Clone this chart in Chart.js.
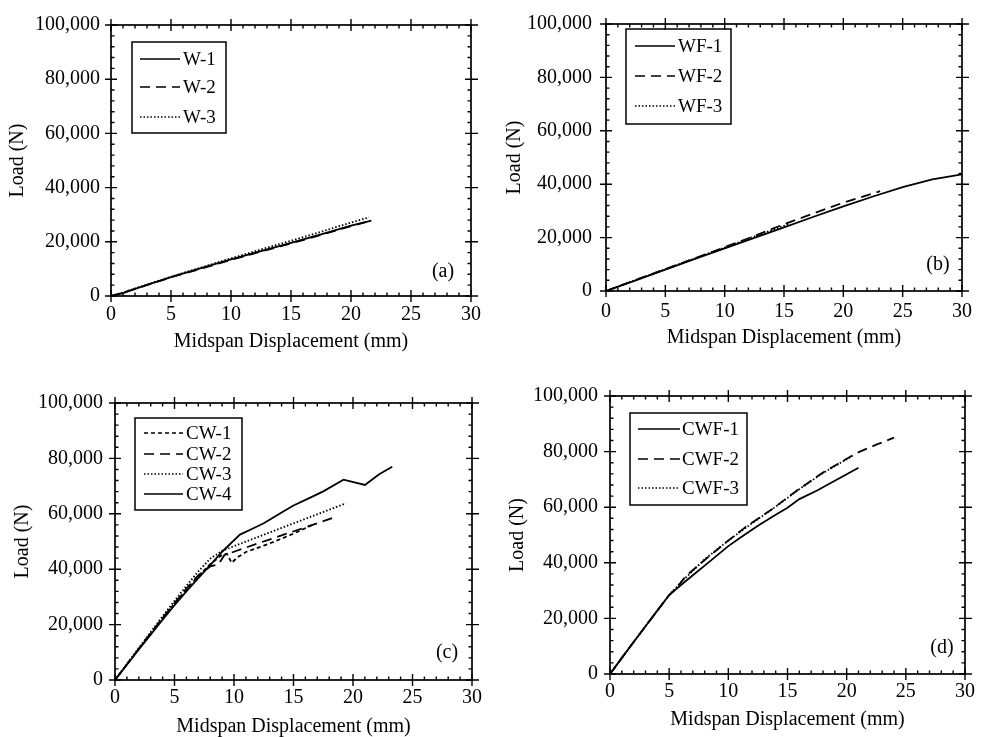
<!DOCTYPE html>
<html><head><meta charset="utf-8">
<script src="https://cdn.jsdelivr.net/npm/chart.js@4.4.1/dist/chart.umd.min.js"></script>
<style>
html,body{margin:0;padding:0;background:#fff;}
body{width:983px;height:737px;position:relative;overflow:hidden;}
canvas{position:absolute;}
</style></head><body>
<canvas id="ca" width="490" height="360" style="left:0;top:0"></canvas>
<canvas id="cb" width="493" height="360" style="left:490px;top:0"></canvas>
<canvas id="cc" width="490" height="377" style="left:0;top:360px"></canvas>
<canvas id="cd" width="493" height="377" style="left:490px;top:360px"></canvas>
<script>
// ---- axes ----
const xMin = 0, xMax = 30, xStep = 5, xMinorStep = 1;
const yMin = 0, yMax = 100000, yStep = 20000, yMinorStep = 4000;
const xTitle = 'Midspan Displacement (mm)';
const yTitle = 'Load (N)';

// ---- panel (a) ----
const w1X = [0, 1, 2, 3, 5, 7.5, 10, 12.5, 15, 17.5, 20, 21.7];
const w1Y = [0, 1100, 2600, 4100, 7000, 10300, 13500, 16600, 19600, 22700, 26000, 27800];
const w2X = [0, 1, 2.5, 5, 7.5, 10, 12.5, 15, 17.5, 20, 21.5];
const w2Y = [0, 1200, 3300, 6900, 10100, 13300, 16400, 19400, 22500, 25800, 27600];
const w3X = [0, 1, 2.5, 5, 7.5, 10, 12.5, 15, 17.5, 20, 21.5];
const w3Y = [0, 1300, 3500, 7100, 10500, 13900, 17200, 20400, 23700, 27100, 29000];

// ---- panel (b) ----
const wf1X = [0, 2.5, 5, 7.5, 10, 12.5, 15, 17.5, 20, 22.5, 25, 27.5, 30];
const wf1Y = [0, 4000, 8000, 12000, 16000, 19900, 23800, 27800, 31700, 35400, 38900, 41800, 43700];
const wf2X = [0, 2.5, 5, 7.5, 10, 12.5, 15, 17.5, 20, 23.1];
const wf2Y = [0, 4100, 8200, 12300, 16400, 20600, 25000, 29100, 33100, 37400];
const wf3X = [0, 2.5, 5, 7.5, 10, 12.5, 15.5];
const wf3Y = [0, 4100, 8200, 12200, 16300, 20400, 25200];

// ---- panel (c) ----
const cw1X = [0, 1, 2, 3, 4, 5, 6, 7, 8, 9, 9.4, 9.8, 10.3, 11, 12.5, 14, 15.5, 16.5];
const cw1Y = [0, 5600, 11200, 16800, 22300, 27600, 32700, 37500, 41800, 45200, 45600, 42300, 44300, 46200, 48500, 51000, 53800, 55800];
const cw2X = [0, 1, 2, 3, 4, 5, 6, 7, 8, 8.7, 9.2, 10, 12, 14, 16, 18.6];
const cw2Y = [0, 5700, 11300, 16900, 22400, 27800, 33000, 37800, 41000, 41800, 45100, 46300, 49300, 52200, 55100, 59000];
const cw3X = [0, 1, 2, 3, 4, 5, 6, 7, 8, 9, 10, 12, 14, 16, 18, 19.4];
const cw3Y = [0, 5800, 11600, 17300, 23000, 28600, 34000, 39200, 43800, 46600, 48300, 51600, 54900, 58200, 61500, 63800];
const cw4X = [0, 1, 2, 3, 4, 5, 6, 7, 8, 9, 10.5, 11.5, 12.5, 14, 15, 16.5, 17.5, 19.2, 21, 22.2, 23.3];
const cw4Y = [0, 5500, 11000, 16400, 21800, 27000, 32000, 36800, 41500, 46300, 52500, 54500, 56600, 60500, 63000, 66000, 68100, 72300, 70400, 74300, 77000];

// ---- panel (d) ----
const cwf1X = [0, 1, 2, 3, 4, 5, 6, 7, 8, 9, 10, 11, 12.5, 14, 15, 16, 17.5, 19, 21];
const cwf1Y = [0, 5800, 11500, 17200, 22800, 28400, 32000, 35500, 39000, 42500, 46000, 49000, 53300, 57300, 59800, 62900, 66000, 69500, 74200];
const cwf2X = [0, 1, 2, 3, 4, 5, 5.6, 6.4, 8, 9.7, 11.5, 13.6, 15.8, 18, 20.8, 22.5, 24];
const cwf2Y = [0, 5800, 11500, 17200, 22800, 28400, 30800, 35200, 41000, 47000, 53000, 59000, 66000, 72500, 79400, 82500, 85000];
const cwf3X = [0, 1, 2, 3, 4, 5, 6, 8, 10, 12, 14, 16, 18, 20.5];
const cwf3Y = [0, 5800, 11500, 17200, 22800, 28400, 33000, 41300, 48000, 54200, 60200, 66500, 72300, 78500];

const FONT = "'Liberation Serif', 'Times New Roman', serif";
const INK = '#000';
const SOLID = [], LONGDASH = [10, 6], SHORTDASH = [4, 3], DOT = [1.5, 2];

function pts(xs, ys) { return xs.map((v, i) => ({x: v, y: ys[i]})); }
function ds(label, xs, ys, dash) {
  return {label, data: pts(xs, ys), borderColor: INK, borderWidth: 1.8, borderDash: dash,
          pointRadius: 0, fill: false, tension: 0};
}

const panelPlugin = {
  id: 'panel',
  afterDraw(chart, args, o) {
    const {ctx, chartArea: a, scales: {x, y}} = chart;
    ctx.save();
    ctx.strokeStyle = INK;
    ctx.setLineDash([]);
    ctx.lineWidth = 1.7;
    ctx.strokeRect(a.left, a.top, a.right - a.left, a.bottom - a.top);
    ctx.lineWidth = 1.4;
    ctx.beginPath();
    for (let v = xMin; v <= xMax + 1e-9; v += xMinorStep) {
      const px = x.getPixelForValue(v);
      if (Math.abs(v % xStep) < 1e-9) {
        ctx.moveTo(px, a.bottom - 6); ctx.lineTo(px, a.bottom + 6);
        ctx.moveTo(px, a.top - 6); ctx.lineTo(px, a.top + 6);
      } else {
        ctx.moveTo(px, a.bottom - 3.5); ctx.lineTo(px, a.bottom);
        ctx.moveTo(px, a.top); ctx.lineTo(px, a.top + 3.5);
      }
    }
    for (let v = yMin; v <= yMax + 1e-9; v += yMinorStep) {
      const py = y.getPixelForValue(v);
      if (Math.abs(v % yStep) < 1e-9) {
        ctx.moveTo(a.left - 6, py); ctx.lineTo(a.left + 6, py);
        ctx.moveTo(a.right - 6, py); ctx.lineTo(a.right + 7, py);
      } else {
        ctx.moveTo(a.left, py); ctx.lineTo(a.left + 3.5, py);
        ctx.moveTo(a.right - 3.5, py); ctx.lineTo(a.right, py);
      }
    }
    ctx.stroke();
    // legend
    const L = o.legend;
    ctx.lineWidth = 1.5;
    ctx.strokeRect(L.box[0], L.box[1], L.box[2] - L.box[0], L.box[3] - L.box[1]);
    ctx.font = '19px ' + FONT;
    ctx.fillStyle = INK;
    ctx.textBaseline = 'middle';
    ctx.textAlign = 'left';
    chart.data.datasets.forEach((d, i) => {
      const ry = L.rows[i];
      ctx.lineWidth = 1.4;
      ctx.setLineDash(d.borderDash || []);
      ctx.beginPath(); ctx.moveTo(L.sample[0], ry); ctx.lineTo(L.sample[1], ry); ctx.stroke();
      ctx.setLineDash([]);
      ctx.fillText(d.label, L.textX, ry + 1);
    });
    // tag
    ctx.font = '20px ' + FONT;
    ctx.textAlign = 'center';
    ctx.fillText(o.tag.text, o.tag.x, o.tag.y);
    ctx.restore();
  }
};

function makePanel(id, P, datasets) {
  const tickFont = {family: FONT, size: 20, lineHeight: 1};
  new Chart(document.getElementById(id), {
    type: 'line',
    data: {datasets},
    plugins: [panelPlugin],
    options: {
      responsive: false, animation: false, devicePixelRatio: 1, events: [],
      layout: {padding: {left: 0, top: P.top, right: P.w - P.right, bottom: 0}},
      plugins: {legend: {display: false}, tooltip: {enabled: false},
                panel: {legend: P.legend, tag: P.tag}},
      scales: {
        x: {type: 'linear', position: 'bottom', min: xMin, max: xMax,
            grid: {display: false, drawTicks: false}, border: {display: false},
            ticks: {stepSize: xStep, padding: P.xtp, color: INK, font: tickFont, maxRotation: 0, autoSkip: false},
            title: {display: true, text: xTitle, color: INK, font: tickFont, padding: {top: 0, bottom: P.xtt}},
            afterFit: s => { s.height = P.h - P.bottom; }},
        y: {type: 'linear', position: 'left', min: yMin, max: yMax,
            grid: {display: false, drawTicks: false}, border: {display: false},
            ticks: {stepSize: yStep, padding: P.ytp, color: INK, font: tickFont,
                    callback: v => Number(v).toLocaleString('en-US')},
            title: {display: true, text: yTitle, color: INK, font: tickFont, padding: {top: P.ytt, bottom: 0}},
            afterFit: s => { s.width = P.left; }}
      }
    }
  });
}

makePanel('ca', {w: 490, h: 360, left: 111, right: 472, top: 25, bottom: 296, ytp: 11, xtp: 9, xtt: 8, ytt: 8,
  legend: {box: [132, 42, 226, 133], rows: [59, 87, 117], sample: [140, 180], textX: 183},
  tag: {text: '(a)', x: 443, y: 272}},
  [ds('W-1', w1X, w1Y, SOLID), ds('W-2', w2X, w2Y, LONGDASH), ds('W-3', w3X, w3Y, DOT)]);

makePanel('cb', {w: 493, h: 360, left: 116, right: 477, top: 14, bottom: 291, ytp: 14, xtp: 11, xtt: 12, ytt: 15,
  legend: {box: [136, 29, 241, 124], rows: [46, 76, 106], sample: [145, 185], textX: 188},
  tag: {text: '(b)', x: 448, y: 265}},
  [ds('WF-1', wf1X, wf1Y, SOLID), ds('WF-2', wf2X, wf2Y, LONGDASH), ds('WF-3', wf3X, wf3Y, DOT)]);

makePanel('cc', {w: 490, h: 377, left: 115, right: 475, top: 43, bottom: 320, ytp: 12, xtp: 8, xtt: 0, ytt: 13,
  legend: {box: [135, 58, 242, 150], rows: [73, 94, 114, 134], sample: [144, 183], textX: 186},
  tag: {text: '(c)', x: 447, y: 293}},
  [ds('CW-1', cw1X, cw1Y, SHORTDASH), ds('CW-2', cw2X, cw2Y, LONGDASH), ds('CW-3', cw3X, cw3Y, DOT), ds('CW-4', cw4X, cw4Y, SOLID)]);

makePanel('cd', {w: 493, h: 377, left: 120, right: 480, top: 36, bottom: 314, ytp: 12, xtp: 8, xtt: 7, ytt: 18,
  legend: {box: [140, 53, 257, 145], rows: [69, 99, 128], sample: [148, 190], textX: 192},
  tag: {text: '(d)', x: 452, y: 288}},
  [ds('CWF-1', cwf1X, cwf1Y, SOLID), ds('CWF-2', cwf2X, cwf2Y, LONGDASH), ds('CWF-3', cwf3X, cwf3Y, DOT)]);
</script>
</body></html>
